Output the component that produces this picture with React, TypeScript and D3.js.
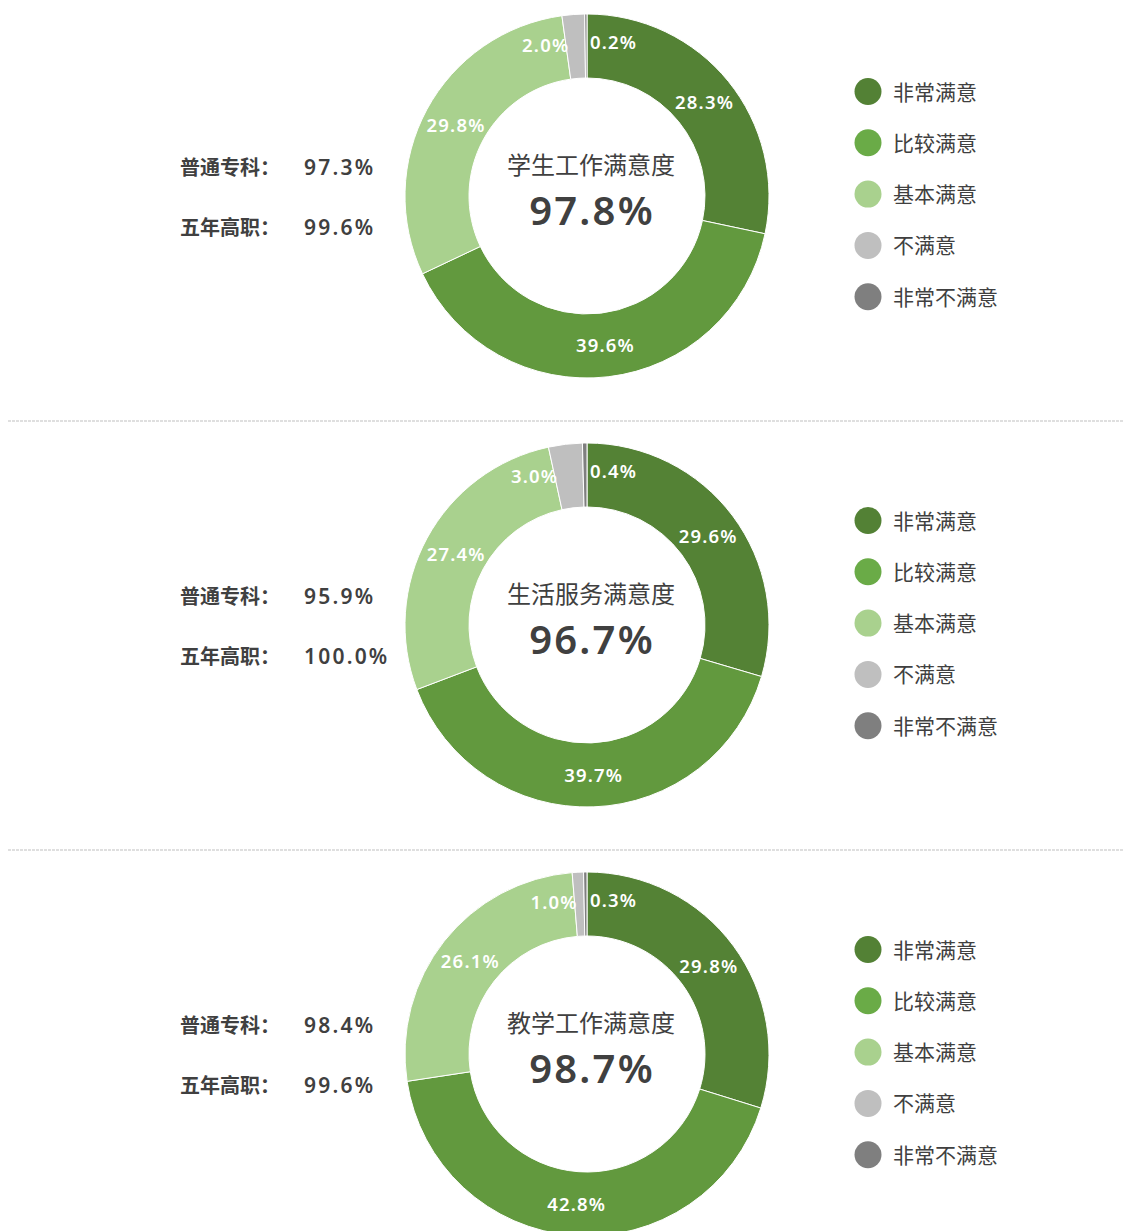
import React from "react";
import * as d3 from "d3";

const levels = ["非常满意", "比较满意", "基本满意", "不满意", "非常不满意"];
const sliceColors = ["#548235", "#62993E", "#A9D18E", "#BFBFBF", "#7F7F7F"];
const legendColors = ["#538135", "#6AAB47", "#A9D18E", "#BFBFBF", "#7F7F7F"];

const titles = ["学生工作满意度", "生活服务满意度", "教学工作满意度"];
const totals = ["97.8%", "96.7%", "98.7%"];
const zhuanke = ["97.3%", "95.9%", "98.4%"];
const gaozhi = ["99.6%", "100.0%", "99.6%"];

const values1 = [28.3, 39.6, 29.8, 2.0, 0.2];
const values2 = [29.6, 39.7, 27.4, 3.0, 0.4];
const values3 = [29.8, 42.8, 26.1, 1.0, 0.3];
const seriesValues = [values1, values2, values3];

const W = 1123;
const H = 1231;
const FONT = "'Noto Sans', 'Noto Sans CJK SC', sans-serif";
const TEXT = "#404040";

const panelH = 429;
const cx = 587;
const cy0 = 196;
const outerR = 182;
const innerR = 118;
const labelR = 150;

function Donut({ values, idx }: { values: number[]; idx: number }) {
  const cy = cy0 + idx * panelH;
  const pie = d3.pie<number>().sort(null).value((d) => d);
  const arcs = pie(values);
  const arc = d3.arc<d3.PieArcDatum<number>>().innerRadius(innerR).outerRadius(outerR);
  const fmt = (v: number) => v.toFixed(1) + "%";
  return (
    <g>
      <g transform={`translate(${cx},${cy})`}>
        {arcs.map((a, i) => (
          <path key={i} d={arc(a) || ""} fill={sliceColors[i]} stroke="#fff" strokeWidth={1} />
        ))}
        {arcs.map((a, i) => {
          const small = a.data < 5;
          let ang = (a.startAngle + a.endAngle) / 2;
          let anchor = "middle";
          let dx = 1;
          let dy = 0;
          if (small && i === 3) {
            ang = a.startAngle;
            anchor = "end";
            dx = 3;
            dy = -3;
          } else if (small && i === 4) {
            ang = Math.PI * 2;
            anchor = "start";
            dx = 3;
            dy = -5;
          }
          const x = Math.sin(ang) * labelR + dx;
          const y = -Math.cos(ang) * labelR + dy;
          return (
            <text
              key={"l" + i}
              x={x}
              y={y}
              textAnchor={anchor}
              dominantBaseline="central"
              fill="#fff"
              fontSize={18.5}
              fontWeight={600}
              letterSpacing={1.2}
              fontFamily={FONT}
            >
              {fmt(a.data)}
            </text>
          );
        })}
      </g>
      <text x={591} y={cy - 32} textAnchor="middle" dominantBaseline="central" fill={TEXT} fontSize={24} fontFamily={FONT}>
        {titles[idx]}
      </text>
      <text x={592} y={cy + 13} textAnchor="middle" dominantBaseline="central" fill={TEXT} fontSize={40} fontWeight={600} letterSpacing={2.2} fontFamily={FONT}>
        {totals[idx]}
      </text>
      <text x={180} y={cy - 29} dominantBaseline="central" fill={TEXT} fontSize={20} fontWeight={700} fontFamily={FONT}>
        普通专科：
      </text>
      <text x={304} y={cy - 29} dominantBaseline="central" fill={TEXT} fontSize={21} fontWeight={600} letterSpacing={2.2} fontFamily={FONT}>
        {zhuanke[idx]}
      </text>
      <text x={180} y={cy + 31} dominantBaseline="central" fill={TEXT} fontSize={20} fontWeight={700} fontFamily={FONT}>
        五年高职：
      </text>
      <text x={304} y={cy + 31} dominantBaseline="central" fill={TEXT} fontSize={21} fontWeight={600} letterSpacing={2.2} fontFamily={FONT}>
        {gaozhi[idx]}
      </text>
      {levels.map((lv, i) => {
        const ly = cy - 104.5 + i * 51.3;
        return (
          <g key={"lg" + i}>
            <circle cx={868} cy={ly} r={13.5} fill={legendColors[i]} />
            <text x={893} y={ly} dominantBaseline="central" fill={TEXT} fontSize={21} fontFamily={FONT}>
              {lv}
            </text>
          </g>
        );
      })}
    </g>
  );
}

export default function App() {
  return (
    <svg
      width={W}
      height={H}
      style={{ position: "absolute", left: 0, top: 0, background: "#fff" }}
    >
      <rect width={W} height={H} fill="#fff" />
      {[421, 850].map((y) => (
        <line key={y} x1={8} x2={W} y1={y} y2={y} stroke="#BFBFBF" strokeWidth={1} strokeDasharray="3,1" />
      ))}
      {seriesValues.map((v, i) => (
        <Donut key={i} values={v} idx={i} />
      ))}
    </svg>
  );
}
